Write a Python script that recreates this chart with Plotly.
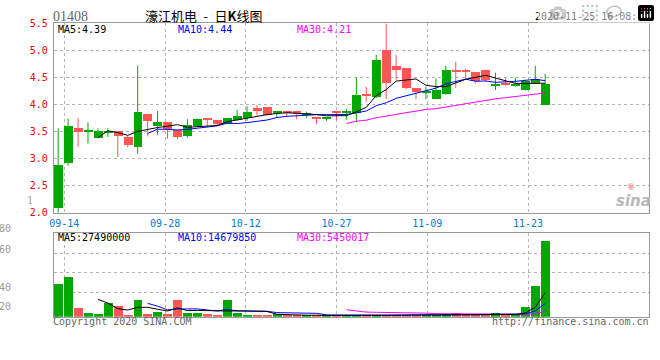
import plotly.graph_objects as go
import pandas as pd

# ---------------- data ----------------
stock_code = "01408"
title_text = "濠江机电\u2002-\u2002日<b>K</b>线图"
stamp_text = "2020-11-25 16:08:42"

date_labels = ["09-14", "09-28", "10-12", "10-27", "11-09", "11-23"]
date_index = [1, 11, 19, 28, 37, 47]

open_ = [2.08, 2.91, 3.56, 3.49, 3.38, 3.48, 3.50, 3.40, 3.21, 3.81,
         3.60, 3.67, 3.52, 3.41, 3.60, 3.73, 3.70, 3.64, 3.71, 3.74,
         3.93, 3.95, 3.84, 3.88, 3.87, 3.80, 3.77, 3.73, 3.87, 3.84,
         3.83, 4.19, 4.13, 5.01, 4.71, 4.66, 4.30, 4.21, 4.10, 4.19,
         4.64, 4.64, 4.60, 4.63, 4.35, 4.39, 4.35, 4.26, 4.39, 3.99]
close = [2.87, 3.59, 3.49, 3.50, 3.50, 3.50, 3.42, 3.24, 3.86, 3.69,
         3.67, 3.54, 3.39, 3.61, 3.73, 3.71, 3.63, 3.74, 3.79, 3.86,
         3.88, 3.80, 3.85, 3.85, 3.82, 3.83, 3.72, 3.74, 3.84, 3.85,
         4.17, 4.15, 4.82, 4.39, 4.64, 4.29, 4.23, 4.24, 4.26, 4.64,
         4.60, 4.60, 4.42, 4.45, 4.38, 4.35, 4.36, 4.42, 4.46, 4.38]
high = [3.56, 3.74, 3.75, 3.67, 3.56, 3.56, 3.51, 3.42, 4.72, 3.82,
        3.88, 3.67, 3.52, 3.73, 3.74, 3.73, 3.70, 3.75, 3.90, 3.97,
        3.99, 3.95, 3.88, 3.88, 3.87, 3.87, 3.77, 3.76, 3.87, 3.92,
        4.50, 4.33, 4.92, 5.50, 4.92, 4.66, 4.30, 4.33, 4.48, 4.72,
        4.79, 4.66, 4.60, 4.63, 4.59, 4.50, 4.50, 4.46, 4.72, 4.57]
low = [2.00, 2.87, 3.22, 3.28, 3.38, 3.40, 3.03, 3.21, 3.09, 3.41,
       3.44, 3.37, 3.36, 3.39, 3.60, 3.61, 3.60, 3.64, 3.70, 3.70,
       3.80, 3.80, 3.75, 3.77, 3.73, 3.75, 3.64, 3.70, 3.71, 3.72,
       3.68, 4.05, 4.12, 4.10, 4.46, 4.28, 4.10, 4.10, 4.10, 4.18,
       4.31, 4.48, 4.39, 4.42, 4.27, 4.35, 4.33, 4.26, 4.39, 3.99]
volume_m = [37.6, 45.4, 9.7, 4.1, 3.0, 16.4, 13.0, 1.9, 19.7, 3.0,
            5.2, 3.0, 19.7, 4.1, 4.1, 3.0, 2.2, 19.7, 4.1, 1.9,
            2.6, 1.9, 3.3, 1.1, 1.1, 1.1, 1.9, 1.1, 2.2, 1.4,
            1.9, 2.2, 1.9, 2.2, 1.9, 2.2, 1.9, 1.9, 1.9, 1.4,
            4.1, 2.2, 1.4, 2.6, 4.1, 2.6, 1.4, 10.8, 35.7, 87.0]

price_ticks = [2.0, 2.5, 3.0, 3.5, 4.0, 4.5, 5.0, 5.5]
vol_axis_labels = ["80", "60", "40", "20"]

price_ma_text = ["MA5:4.39", "MA10:4.44", "MA30:4.21"]
vol_ma_text = ["MA5:27490000", "MA10:14679850", "MA30:5450017"]

# ---------------- derived ----------------
W, H = 660, 360
n = len(close)
idx = list(range(n))
GREEN = "#00a800"
RED = "#ff5555"
MONO = "DejaVu Sans Mono"

up = [c >= o for o, c in zip(open_, close)]
cols = [GREEN if u else RED for u in up]
body_base = [min(o, c) for o, c in zip(open_, close)]
body_h = [max(abs(c - o), 0.018) for o, c in zip(open_, close)]

cs = pd.Series(close)
vs = pd.Series(volume_m)
ma_p = {k: cs.rolling(k).mean() for k in (5, 10, 30)}
ma_v = {k: vs.rolling(k).mean() for k in (5, 10, 30)}
ma_cols = {5: "#000000", 10: "#0000ff", 30: "#ff00ff"}


def px(x):
    return x / W


def py(y):
    return 1 - y / H


tick_pos = [d * 1.0143 - 0.394 for d in date_index]

fig = go.Figure()

# wicks
for flag, col in ((True, GREEN), (False, RED)):
    wx, wy = [], []
    for i in idx:
        if up[i] == flag:
            wx += [i, i, None]
            wy += [low[i], high[i], None]
    fig.add_trace(go.Scatter(x=wx, y=wy, mode="lines", line=dict(color=col, width=1),
                             xaxis="x", yaxis="y", hoverinfo="skip", showlegend=False))

# bodies
fig.add_trace(go.Bar(x=idx, y=body_h, base=body_base, width=0.9,
                     marker=dict(color=cols, line=dict(width=0)),
                     xaxis="x", yaxis="y", showlegend=False))

# price MAs
for k in (30, 10, 5):
    fig.add_trace(go.Scatter(x=idx, y=ma_p[k], mode="lines",
                             line=dict(color=ma_cols[k], width=1),
                             xaxis="x", yaxis="y", showlegend=False))

# volume bars
fig.add_trace(go.Bar(x=idx, y=volume_m, width=0.9,
                     marker=dict(color=cols, line=dict(width=0)),
                     xaxis="x2", yaxis="y2", showlegend=False))
for k in (30, 10, 5):
    fig.add_trace(go.Scatter(x=idx, y=ma_v[k], mode="lines",
                             line=dict(color=ma_cols[k], width=1),
                             xaxis="x2", yaxis="y2", showlegend=False))

x_range = [-0.45, 59.45]
grid_col = "#b4b4b4"
frame_col = "#999999"

common_x = dict(range=x_range, tickmode="array", tickvals=tick_pos, ticktext=date_labels,
                showgrid=True, gridcolor=grid_col, griddash="dot", gridwidth=1,
                showline=True, mirror=True, linecolor=frame_col, linewidth=1,
                zeroline=False, ticks="", fixedrange=True)

fig.update_layout(
    width=W, height=H,
    margin=dict(l=0, r=0, t=0, b=0),
    paper_bgcolor="white", plot_bgcolor="white",
    barmode="overlay", bargap=0,
    xaxis=dict(domain=[px(50), px(649)], anchor="y",
               tickfont=dict(family=MONO, size=10, color="#0a78d2"),
               ticklabelstandoff=1, **common_x),
    yaxis=dict(domain=[py(213.3), py(18)], range=[2.0, 5.5], anchor="x",
               tickmode="array", tickvals=price_ticks,
               ticktext=[f"{t:.1f}" for t in price_ticks],
               tickfont=dict(family=MONO, size=10, color="#ee0000"),
               ticklabelstandoff=3,
               showgrid=True, gridcolor=grid_col, griddash="dot", gridwidth=1,
               showline=True, mirror=True, linecolor=frame_col, linewidth=1,
               zeroline=False, ticks="", fixedrange=True),
    xaxis2=dict(domain=[px(50), px(649)], anchor="y2", showticklabels=False, **common_x),
    yaxis2=dict(domain=[py(320.5), py(234)], range=[0, 96.4], anchor="x2",
                tickmode="array", tickvals=[28.1, 50.4, 72.7], showticklabels=False,
                showgrid=True, gridcolor=grid_col, griddash="dot", gridwidth=1,
                showline=True, mirror=True, linecolor=frame_col, linewidth=1,
                zeroline=False, ticks="", fixedrange=True),
)

ann = []


def add_text(text, x, y, color, size=10, family=MONO, xanchor="left", **kw):
    ann.append(dict(text=text, x=px(x), y=py(y), xref="paper", yref="paper",
                    xanchor=xanchor, yanchor="middle", showarrow=False, borderpad=0,
                    font=dict(family=family, size=size, color=color, **kw)))


add_text(stock_code, 48, 11, "#666666", size=14, family="Liberation Serif")
add_text(title_text, 201, 9.5, "#000000", size=13, family="Noto Sans CJK SC", xanchor="center")
add_text(stamp_text, 650, 11, "#000000", size=10, xanchor="right")

ma_x = [53, 174, 294]
for t, x, k in zip(price_ma_text, ma_x, (5, 10, 30)):
    add_text(t, x, 24, ma_cols[k])
for t, x, k in zip(vol_ma_text, ma_x, (5, 10, 30)):
    add_text(t, x, 239, ma_cols[k])

for t, y in zip(vol_axis_labels, [229, 251, 290, 310]):
    add_text(t, -6, y, "#999999")
add_text("1", 22, 200, "#999999", size=12, family="Liberation Serif")

add_text("Copyright 2020 SINA.COM", 48, 325, "#666666")
add_text("http://finance.sina.com.cn", 650, 325, "#666666", xanchor="right")

add_text("sina", 652, 201, "#b8b8b8", size=15, family="DejaVu Sans", xanchor="right",
         style="italic", weight="bold")
add_text("◉", 631, 186, "#f4a6a6", size=9, family="DejaVu Sans", xanchor="center")

fig.update_layout(annotations=ann)

fig.write_html("out.html",
               post_script="document.body.style.margin='0';document.body.style.overflow='hidden';")
